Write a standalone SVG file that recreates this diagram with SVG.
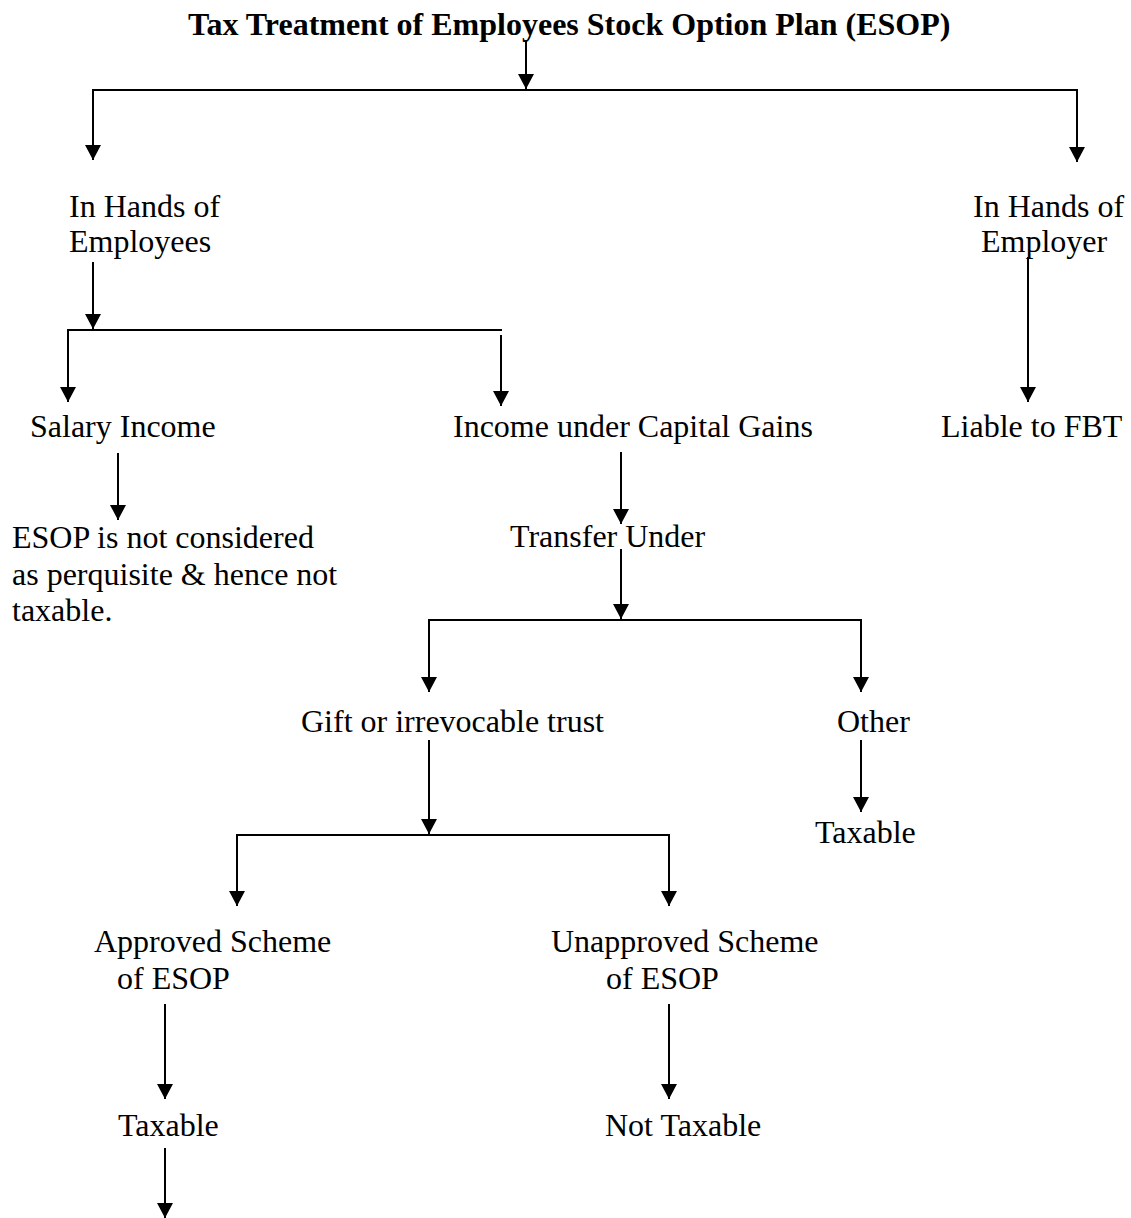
<svg xmlns="http://www.w3.org/2000/svg" width="1131" height="1218" viewBox="0 0 1131 1218">
<style>
  .t { font-family: "Liberation Serif", "Times New Roman", serif; font-size: 32px; fill: #000; }
  .title { font-weight: bold; }
  .c line { stroke: #000; stroke-width: 2; fill: none; }
  .c .a { marker-end: url(#arrow); }
</style>
<defs>
  <marker id="arrow" markerUnits="userSpaceOnUse" markerWidth="15" markerHeight="16" viewBox="0 0 15 16" refX="15" refY="8" orient="auto">
    <path d="M0,0 L15,8 L0,16 z" fill="#000"/>
  </marker>
</defs>
<rect width="1131" height="1218" fill="#fff"/>

<g id="connectors" class="c">
  <line class="a" x1="526" y1="40" x2="526" y2="89"/>
  <line x1="92" y1="90" x2="1078" y2="90"/>
  <line class="a" x1="93" y1="90" x2="93" y2="160"/>
  <line class="a" x1="1077" y1="90" x2="1077" y2="162"/>

  <line class="a" x1="93" y1="262" x2="93" y2="329"/>
  <line x1="67" y1="330" x2="502" y2="330"/>
  <line class="a" x1="68" y1="330" x2="68" y2="402"/>
  <line class="a" x1="501" y1="335" x2="501" y2="406"/>

  <line class="a" x1="1028" y1="257" x2="1028" y2="402"/>

  <line class="a" x1="118" y1="453" x2="118" y2="520"/>
  <line class="a" x1="621" y1="452" x2="621" y2="524"/>

  <line class="a" x1="621" y1="549" x2="621" y2="619"/>
  <line x1="428" y1="620" x2="862" y2="620"/>
  <line class="a" x1="429" y1="620" x2="429" y2="692"/>
  <line class="a" x1="861" y1="620" x2="861" y2="692"/>

  <line class="a" x1="429" y1="740" x2="429" y2="834"/>
  <line x1="236" y1="835" x2="670" y2="835"/>
  <line class="a" x1="237" y1="835" x2="237" y2="906"/>
  <line class="a" x1="669" y1="835" x2="669" y2="906"/>

  <line class="a" x1="861" y1="740" x2="861" y2="812"/>

  <line class="a" x1="165" y1="1004" x2="165" y2="1099"/>
  <line class="a" x1="669" y1="1004" x2="669" y2="1099"/>
  <line class="a" x1="165" y1="1148" x2="165" y2="1218"/>
</g>

<g id="title"><text class="t title" x="188" y="35">Tax Treatment of Employees Stock Option Plan (ESOP)</text></g>
<g id="employees"><text class="t" x="69" y="217">In Hands of</text><text class="t" x="69" y="252">Employees</text></g>
<g id="employer"><text class="t" x="973" y="217">In Hands of</text><text class="t" x="981" y="252">Employer</text></g>
<g id="salary"><text class="t" x="30" y="437">Salary Income</text></g>
<g id="capital"><text class="t" x="453" y="437">Income under Capital Gains</text></g>
<g id="fbt"><text class="t" x="941" y="437">Liable to FBT</text></g>
<g id="esop-not"><text class="t" x="12" y="548">ESOP is not considered</text><text class="t" x="12" y="585">as perquisite &amp; hence not</text><text class="t" x="12" y="621">taxable.</text></g>
<g id="transfer"><text class="t" x="510" y="547">Transfer Under</text></g>
<g id="gift"><text class="t" x="301" y="732">Gift or irrevocable trust</text></g>
<g id="other"><text class="t" x="837" y="732">Other</text></g>
<g id="other-taxable"><text class="t" x="815" y="843">Taxable</text></g>
<g id="approved"><text class="t" x="94" y="952">Approved Scheme</text><text class="t" x="117" y="989">of ESOP</text></g>
<g id="unapproved"><text class="t" x="551" y="952">Unapproved Scheme</text><text class="t" x="606" y="989">of ESOP</text></g>
<g id="approved-taxable"><text class="t" x="118" y="1136">Taxable</text></g>
<g id="not-taxable"><text class="t" x="605" y="1136">Not Taxable</text></g>
</svg>
